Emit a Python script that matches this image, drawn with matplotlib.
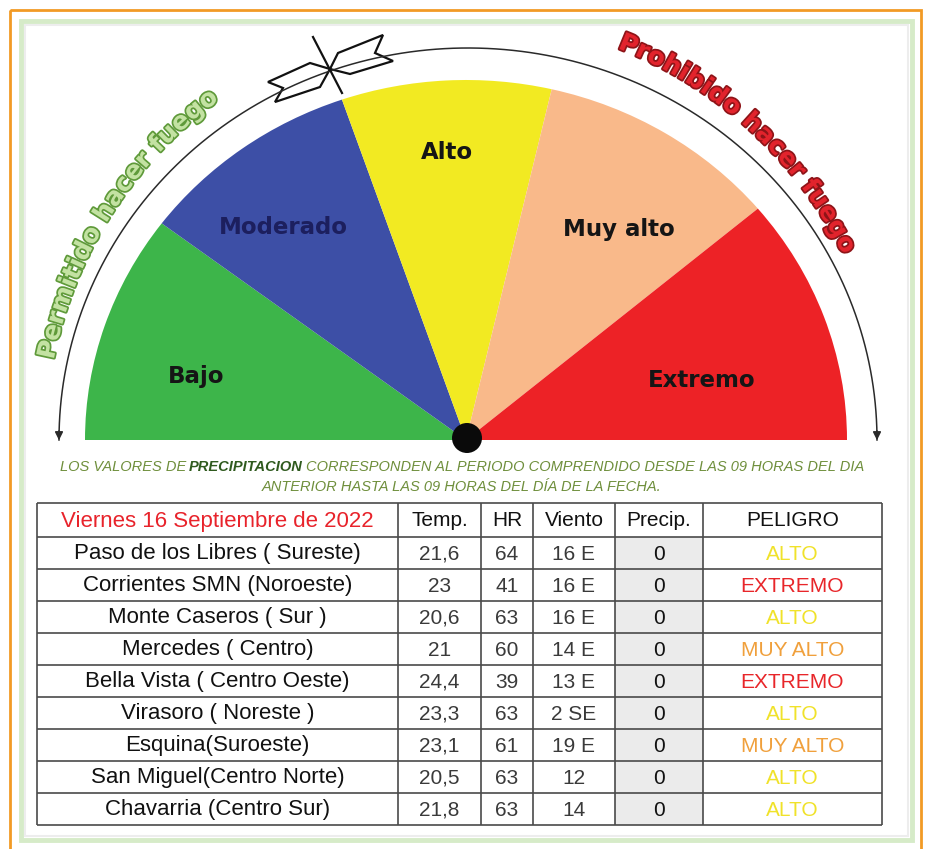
import numpy as np
import matplotlib
matplotlib.use('Agg')
import matplotlib.pyplot as plt
import matplotlib.patheffects as pe
from matplotlib import font_manager as fm
from matplotlib.patches import Wedge, Circle, Rectangle, Polygon
from matplotlib.transforms import Affine2D

W, H = 926, 849

# fire danger levels of the gauge (degrees of the half circle each takes)
levels = ['Bajo', 'Moderado', 'Alto', 'Muy alto', 'Extremo']
spans = [37, 34, 32, 37, 40]
level_colors = ['#3db54a', '#3d4fa6', '#f2ea22', '#f9b98a', '#ed2226']

left_caption = 'Permitido hacer fuego'
right_caption = 'Prohibido hacer fuego'

# station table
date_label = 'Viernes 16 Septiembre de 2022'
columns = ['Temp.', 'HR', 'Viento', 'Precip.', 'PELIGRO']
stations = ['Paso de los Libres ( Sureste)', 'Corrientes SMN (Noroeste)',
            'Monte Caseros ( Sur )', 'Mercedes ( Centro)',
            'Bella Vista ( Centro Oeste)', 'Virasoro ( Noreste )',
            'Esquina(Suroeste)', 'San Miguel(Centro Norte)',
            'Chavarria (Centro Sur)']
temp = ['21,6', '23', '20,6', '21', '24,4', '23,3', '23,1', '20,5', '21,8']
hr = [64, 41, 63, 60, 39, 63, 61, 63, 63]
viento = ['16 E', '16 E', '16 E', '14 E', '13 E', '2 SE', '19 E', '12', '14']
precip = [0, 0, 0, 0, 0, 0, 0, 0, 0]
peligro = ['ALTO', 'EXTREMO', 'ALTO', 'MUY ALTO', 'EXTREMO', 'ALTO',
           'MUY ALTO', 'ALTO', 'ALTO']
peligro_colors = {'ALTO': '#f0e22a', 'EXTREMO': '#e8262a', 'MUY ALTO': '#f0a03c'}

note1 = ['LOS VALORES DE', 'PRECIPITACION',
         'CORRESPONDEN AL PERIODO COMPRENDIDO DESDE LAS 09 HORAS DEL DIA']
note2 = 'ANTERIOR HASTA LAS 09 HORAS DEL DÍA DE LA FECHA.'


def pick_font(names):
    for n in names:
        try:
            fm.findfont(fm.FontProperties(family=n), fallback_to_default=False)
            return n
        except ValueError:
            pass
    return 'DejaVu Sans'


narrow = pick_font(['Liberation Sans Narrow', 'DejaVu Sans Condensed', 'Liberation Sans'])

fig = plt.figure(figsize=(W / 100, H / 100), dpi=100)
ax = fig.add_axes([0, 0, 1, 1])
ax.set_xlim(0, W)
ax.set_ylim(H, 0)
ax.axis('off')
renderer = fig.canvas.get_renderer()


def text_w(s, **kw):
    t = ax.text(0, 0, s, **kw)
    w = t.get_window_extent(renderer=renderer).width
    t.remove()
    return w


# frames
ax.add_patch(Rectangle((10, 10), 911, 845, fill=False, ec='#f29a25', lw=2))
ax.add_patch(Rectangle((21, 21), 891, 819, fill=False, ec='#d6ebc8', lw=3.5))
ax.add_patch(Rectangle((25, 25), 883, 811, fill=False, ec='#ededed', lw=1.5))

# gauge
cx, cy, rx, ry = 466, 440, 381, 360
gt = Affine2D().scale(rx, -ry).translate(cx, cy) + ax.transData
label_pos = [(166, 0.73), (129, 0.76), (93.5, 0.80), (55.6, 0.71), (15, 0.64)]
theta = 180
for name, span, col, (la, lr) in zip(levels, spans, level_colors, label_pos):
    ax.add_patch(Wedge((0, 0), 1, theta - span, theta, fc=col, ec='none', transform=gt))
    a = np.radians(la)
    ax.text(cx + lr * rx * np.cos(a), cy - lr * ry * np.sin(a), name,
            ha='center', va='center', fontsize=16.5, fontweight='bold',
            color='#1c1f5e' if name == 'Moderado' else '#151515')
    theta -= span
ax.add_patch(Circle((cx + 1, cy - 2), 15, fc='#0a0a0a', ec='none'))

# outer arc with arrow heads
acx, arx, ary = 468, 409, 392
t = np.linspace(np.pi, 0, 300)
ax.plot(acx + arx * np.cos(t), cy - ary * np.sin(t), color='#2a2a2a', lw=1.1)
for x in (acx - arx, acx + arx):
    ax.annotate('', xy=(x, 443), xytext=(x, 428),
                arrowprops=dict(arrowstyle='-|>', color='#2a2a2a', lw=1.1,
                                mutation_scale=12))

# arrow symbol on the arc
ax.plot([313, 342], [37, 93], color='#111', lw=1.6)
ax.add_patch(Polygon([(330, 69), (338, 53), (383, 35), (375, 53), (393, 61), (350, 74)],
                     closed=True, fc='white', ec='#111', lw=1.6))
ax.add_patch(Polygon([(330, 69), (310, 63), (268, 82), (283, 88), (275, 102), (320, 87)],
                     closed=True, fc='white', ec='#111', lw=1.6))


def arc_text(s, cang, R, fc, sc):
    kw = dict(fontsize=18, fontweight='bold', family='DejaVu Sans')
    base = text_w('xx', **kw)
    ws = [text_w('x' + c + 'x', **kw) - base for c in s]
    a0 = np.radians(cang) + sum(ws) / 2 / R
    pos = 0
    for c, w in zip(s, ws):
        a = a0 - (pos + w / 2) / R
        pos += w
        if c == ' ':
            continue
        ax.text(cx + R * np.cos(a), cy - R * np.sin(a), c,
                rotation=np.degrees(a) - 90, rotation_mode='anchor',
                ha='center', va='baseline', color=fc,
                path_effects=[pe.withStroke(linewidth=2.5, foreground=sc)], **kw)


arc_text(left_caption, 147.5, 420, '#c3e2a2', '#5f9a3a')
arc_text(right_caption, 47.5, 420, '#e2232c', '#8e1418')

# note under the gauge
nkw = dict(fontsize=10.5, fontstyle='italic', family=narrow)
sp = text_w('A A', **nkw) - text_w('AA', **nkw)
parts = [(note1[0], 'normal', '#6f8f3c'), (note1[1], 'bold', '#2f5a1e'),
         (note1[2], 'normal', '#6f8f3c')]
widths = [text_w(p, fontweight=fw, **nkw) for p, fw, _ in parts]
x = 462 - (sum(widths) + 2 * sp) / 2
for (p, fw, c), w in zip(parts, widths):
    ax.text(x, 467, p, ha='left', va='center', fontweight=fw, color=c, **nkw)
    x += w + sp
ax.text(462, 487, note2, ha='center', va='center', color='#6f8f3c', **nkw)

# table
xe = [37, 398, 481, 533, 615, 703, 882]
ye = [503] + [537 + 32 * k for k in range(len(stations) + 1)]
ax.add_patch(Rectangle((xe[4], ye[1]), xe[5] - xe[4], ye[-1] - ye[1],
                       fc='#ebebeb', ec='none'))
ax.hlines(ye, xe[0], xe[-1], color='#4a4a4a', lw=1.2)
ax.vlines(xe, ye[0], ye[-1], color='#4a4a4a', lw=1.2)
xc = [(a + b) / 2 for a, b in zip(xe[:-1], xe[1:])]
tkw = dict(fontsize=16, family=narrow, ha='center', va='center')
nkw2 = dict(fontsize=15, family=narrow, ha='center', va='center')
ax.text(xc[0], (ye[0] + ye[1]) / 2 + 1, date_label, color='#e8232b', **tkw)
for x, c in zip(xc[1:], columns):
    ax.text(x, (ye[0] + ye[1]) / 2 + 1, c, color='#111', **nkw2)
for i, st in enumerate(stations):
    y = (ye[i + 1] + ye[i + 2]) / 2 + 1
    ax.text(xc[0], y, st, color='#111', **tkw)
    ax.text(xc[1], y, temp[i], color='#3a3a3a', **nkw2)
    ax.text(xc[2], y, str(hr[i]), color='#3a3a3a', **nkw2)
    ax.text(xc[3], y, viento[i], color='#3a3a3a', **nkw2)
    ax.text(xc[4], y, str(precip[i]), color='#111', **nkw2)
    ax.text(xc[5], y, peligro[i], color=peligro_colors[peligro[i]], **nkw2)

fig.savefig('out.png', dpi=100)
